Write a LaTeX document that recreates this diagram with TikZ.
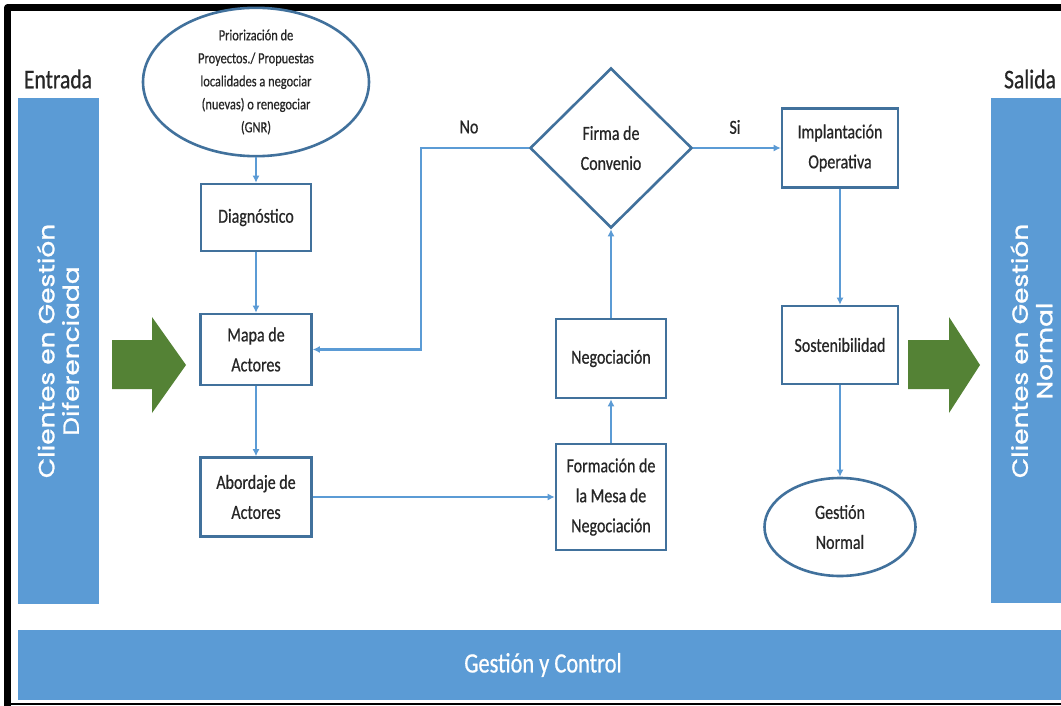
\documentclass[tikz,border=0pt]{standalone}
\usepackage{fontspec}
\setmainfont{Carlito}[FakeStretch=0.8, FakeBold=0.6]
\newfontfamily\geofont{Poppins}[FakeStretch=1.2, FakeBold=1.2]
\usetikzlibrary{shapes.geometric,arrows.meta}

\definecolor{nodeline}{HTML}{41719C}
\definecolor{flow}{HTML}{5B9BD5}
\definecolor{band}{HTML}{5B9BD5}
\definecolor{gogreen}{HTML}{548235}
\definecolor{ink}{HTML}{262626}

\newcommand\boxtxt{\fontsize{20}{30}\selectfont}
\newcommand\smalltxt{\fontsize{15.5}{23}\selectfont}
\newcommand\headtxt{\fontsize{27}{30}\selectfont}
\newcommand\sidetxt{\geofont\fontsize{22}{24.5}\selectfont}

\tikzset{
  x=1pt, y=-1pt,
  procbox/.style={draw=nodeline, line width=2.6pt, fill=white, rectangle,
    inner sep=0pt, align=center, text=ink, font=\boxtxt},
  roundbox/.style={procbox, ellipse},
  decision/.style={procbox, diamond, aspect=1},
  flowarrow/.style={draw=flow, line width=2.4pt,
    -{Latex[length=7pt,width=7pt]}},
  flowlabel/.style={text=ink, font=\boxtxt},
  bandtext/.style={text=white, align=center, font=\sidetxt, rotate=90},
  bigarrow/.style={fill=gogreen},
}

\begin{document}
\begin{tikzpicture}
\clip (0,0) rectangle (1061,706);
\fill[white] (0,0) rectangle (1061,706);

% outer frame
\draw[line width=7pt, line join=round] (7.5,706) -- (7.5,8) -- (1061,8);
\draw[line width=2pt] (4,704) -- (1061,704);

% input / output bands
\fill[band] (18,98) rectangle (99,604);
\fill[band] (991,98) rectangle (1072,603);
\fill[band] (18,630) rectangle (1061,700);

\node[text=ink, font=\headtxt] (entrada) at (58,79) {Entrada};
\node[text=ink, font=\headtxt] (salida) at (1030,79) {Salida};

\node[bandtext] (clientesin) at (58,351) {Clientes en Gestión\\Diferenciada};
\node[bandtext] (clientesout) at (1031.5,351) {Clientes en Gestión\\Normal};
\node[text=white, font=\fontsize{28}{30}\selectfont] (control) at (543,665) {Gestión y Control};

% green flow arrows
\fill[bigarrow] (112,340) -- (152,340) -- (152,317) -- (186,365) -- (152,413)
  -- (152,389) -- (112,389) -- cycle;
\fill[bigarrow] (908,340) -- (949,340) -- (949,317) -- (980,365) -- (949,413)
  -- (949,389) -- (908,389) -- cycle;

% process nodes
\node[roundbox, font=\smalltxt, minimum width=226pt, minimum height=138pt]
  (prio) at (256,82) {Priorización de\\Proyectos./ Propuestas\\localidades a negociar\\(nuevas) o renegociar\\(GNR)};
\node[procbox, minimum width=110pt, minimum height=67pt] (diag) at (256,217.5) {Diagnóstico};
\node[procbox, minimum width=111pt, minimum height=71pt] (mapa) at (256,349.5) {Mapa de\\Actores};
\node[procbox, minimum width=111pt, minimum height=79pt] (abord) at (256,497) {Abordaje de\\Actores};
\node[procbox, minimum width=110pt, minimum height=106pt] (mesa) at (611,497) {Formación de\\la Mesa de\\Negociación};
\node[procbox, minimum width=110pt, minimum height=79pt] (negoc) at (611,358.5) {Negociación};
\node[decision, minimum width=162pt, minimum height=160pt] (firma) at (611,148) {Firma de\\Convenio};
\node[procbox, minimum width=116pt, minimum height=79pt] (impl) at (840,148) {Implantación\\Operativa};
\node[procbox, minimum width=116pt, minimum height=78pt] (sost) at (840,345) {Sostenibilidad};
\node[roundbox, minimum width=151pt, minimum height=98pt] (gnormal) at (840,527) {Gestión\\Normal};

% connectors
\draw[flowarrow] (prio.south) -- (diag.north);
\draw[flowarrow] (diag.south) -- (mapa.north);
\draw[flowarrow] (mapa.south) -- (abord.north);
\draw[flowarrow] (abord.east) -- (mesa.west);
\draw[flowarrow] (mesa.north) -- (negoc.south);
\draw[flowarrow] (negoc.north) -- (firma.south);
\draw[flowarrow] (firma.west) -- ++(-108,0) |- (mapa.east);
\draw[flowarrow] (firma.east) -- (impl.west);
\draw[flowarrow] (impl.south) -- (sost.north);
\draw[flowarrow] (sost.south) -- (gnormal.north);

\node[flowlabel] (lblno) at (469,127) {No};
\node[flowlabel] (lblsi) at (735,127) {Si};
\end{tikzpicture}
\end{document}
